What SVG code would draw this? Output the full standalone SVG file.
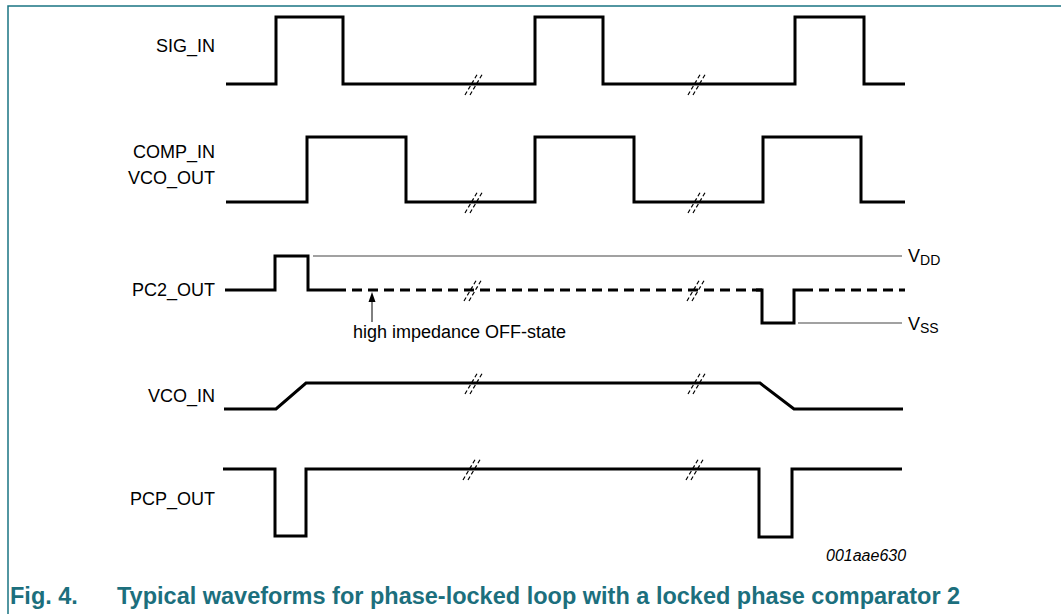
<svg xmlns="http://www.w3.org/2000/svg" xmlns:xlink="http://www.w3.org/1999/xlink" width="1061" height="614" viewBox="0 0 1061 614">
<style>
.wave{fill:none;stroke:#000;stroke-width:3;stroke-linejoin:miter;stroke-linecap:butt}
.dash{fill:none;stroke:#000;stroke-width:3;stroke-dasharray:10 6}
.thin{fill:none;stroke:#444;stroke-width:1.2}
.lbl{font-family:"Liberation Sans",Arial,sans-serif;font-size:18px;fill:#000}
.brk{fill:none;stroke:#000;stroke-width:1.2;stroke-dasharray:4 2.5}
.frame{fill:none;stroke:#1a7482;stroke-width:1.5}
.cap{font-family:"Liberation Sans",Arial,sans-serif;font-size:23.5px;font-weight:bold;fill:#1c6f7d}
</style>
<defs>
<g id="brkmark">
<line class="brk" x1="-9" y1="11" x2="4" y2="-11"/>
<line class="brk" x1="-4" y1="11" x2="9" y2="-11"/>
</g>
</defs>
<rect width="1061" height="614" fill="#fff"/>
<path class="frame" d="M1061,6 H8 V614"/>

<g id="sig_in">
<text class="lbl" x="215" y="52" text-anchor="end">SIG_IN</text>
<path class="wave" d="M226,84 H276 V17 H343 V84 H535 V17 H603 V84 H795 V17 H864 V84 H905"/>
</g>
<g id="comp_in">
<text class="lbl" x="215" y="158" text-anchor="end">COMP_IN</text>
<text class="lbl" x="215" y="184" text-anchor="end">VCO_OUT</text>
<path class="wave" d="M226,202 H307 V137 H406 V202 H535 V137 H634 V202 H763 V137 H861 V202 H905"/>
</g>
<g id="pc2_out">
<text class="lbl" x="215" y="296" text-anchor="end">PC2_OUT</text>
<path class="wave" d="M225,290 H275 V256 H308 V290 H336"/>
<path class="dash" d="M336,290 H762"/>
<path class="wave" d="M756,290 H762 V323 H794 V290 H803"/>
<path class="dash" d="M803,290 H905"/>
<line class="thin" x1="313" y1="256" x2="902" y2="256"/>
<line class="thin" x1="798" y1="323" x2="902" y2="323"/>
<text class="lbl" x="908" y="262">V<tspan font-size="14" dy="3">DD</tspan></text>
<text class="lbl" x="908" y="330">V<tspan font-size="14" dy="3">SS</tspan></text>
<line x1="372" y1="322" x2="372" y2="300" stroke="#000" stroke-width="1"/>
<path d="M372,292 L375.5,302 L368.5,302 Z" fill="#000"/>
<text class="lbl" x="353" y="338">high impedance OFF-state</text>
</g>
<g id="vco_in">
<text class="lbl" x="215" y="402" text-anchor="end">VCO_IN</text>
<path class="wave" d="M224,409 H276 L306,383 H760 L794,409 H903"/>
</g>
<g id="pcp_out">
<text class="lbl" x="215" y="505" text-anchor="end">PCP_OUT</text>
<path class="wave" d="M223,469 H275 V536 H306 V469 H759 V537 H792 V469 H902"/>
</g>
<g id="breaks">
<use xlink:href="#brkmark" x="474" y="84"/>
<use xlink:href="#brkmark" x="697" y="84"/>
<use xlink:href="#brkmark" x="474" y="202"/>
<use xlink:href="#brkmark" x="697" y="202"/>
<use xlink:href="#brkmark" x="473" y="290"/>
<use xlink:href="#brkmark" x="696" y="290"/>
<use xlink:href="#brkmark" x="474" y="383"/>
<use xlink:href="#brkmark" x="697" y="383"/>
<use xlink:href="#brkmark" x="472" y="469"/>
<use xlink:href="#brkmark" x="695" y="469"/>
</g>
<text x="826" y="561" font-family="'Liberation Sans',Arial,sans-serif" font-size="16" font-style="italic" fill="#000">001aae630</text>
<g id="caption">
<text class="cap" x="10" y="604">Fig. 4.</text>
<text class="cap" x="117" y="604">Typical waveforms for phase-locked loop with a locked phase comparator 2</text>
</g>
</svg>
